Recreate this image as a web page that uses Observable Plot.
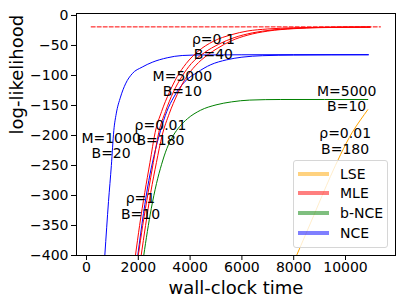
<!DOCTYPE html>
<html><head><meta charset="utf-8">
<script src="https://cdn.jsdelivr.net/npm/d3@7"></script>
<script src="https://cdn.jsdelivr.net/npm/@observablehq/plot@0.6"></script>
<style>
body{margin:0;background:#fff;}
#wrap{position:relative;width:407px;height:305px;font-family:"DejaVu Sans",sans-serif;}
#legend{position:absolute;left:293px;top:160px;width:95px;height:88px;border:1px solid #d6d6d6;border-radius:3px;background:rgba(255,255,255,0.8);box-sizing:border-box;}
.sw{position:absolute;left:4px;width:31px;height:4px;transform:translateY(-50%);}
.lab{position:absolute;left:46px;font-size:14px;line-height:14px;transform:translateY(-50%);color:#000;}
</style>
</head><body>
<div id="wrap"><div id="chart"></div><div id="legend"></div></div>
<script>
// ---- data ----
const xTicks = [0, 2000, 4000, 6000, 8000, 10000];
const yTicks = [0, -50, -100, -150, -200, -250, -300, -350, -400];

// NCE, M=1000, B=20
const nce1T  = [707, 850, 960, 1054, 1147, 1313, 1506, 1764, 2150, 2537, 3116, 3695, 4467, 6000, 8000, 10880];
const nce1LL = [-400, -310, -250, -192, -164, -136, -114, -97, -86, -78, -70.5, -66.7, -65.8, -65.5, -65.3, -65.3];
// NCE, M=5000, B=10
const nce2T  = [1980, 2200, 2406, 2600, 2857, 3100, 3370, 3800, 4270, 4800, 5400, 6000, 6800, 8000, 10880];
const nce2LL = [-400, -330, -275, -235, -192, -160, -136, -110, -95, -82, -74, -69.5, -67, -66, -65.5];
// MLE, rho=1 B=10
const mle1T  = [1890, 2050, 2250, 2450, 2650, 2900, 3200, 3500, 3850, 4300, 4900, 5600, 6200, 7000, 8000, 9000, 10950];
const mle1LL = [-400, -350, -295, -245, -195, -160, -128, -102, -80, -60, -43, -32, -26, -22.5, -20.5, -19.7, -19.3];
// MLE, rho=0.1 B=40
const mle2T  = [2000, 2170, 2380, 2580, 2790, 3050, 3350, 3680, 4050, 4550, 5100, 5700, 6400, 7200, 8200, 9200, 10950];
const mle2LL = [-400, -350, -295, -245, -195, -160, -128, -102, -80, -62, -48, -37, -29, -24, -21, -19.8, -19.3];
// MLE, rho=0.01 B=180
const mle3T  = [2110, 2280, 2480, 2700, 2920, 3200, 3500, 3822, 4200, 4700, 5046, 5600, 6200, 7000, 8000, 9000, 10950];
const mle3LL = [-400, -350, -295, -245, -200, -163, -132, -105, -84, -65, -55, -42, -33, -26, -22, -20.3, -19.3];
// b-NCE, M=5000, B=10
const bnceT  = [2210, 2350, 2500, 2703, 2900, 3100, 3350, 3600, 3900, 4400, 5000, 5600, 6300, 7500, 10860];
const bnceLL = [-400, -360, -322, -280, -248, -222, -200, -185, -172, -158, -149, -144, -141, -140, -140];
// LSE, rho=0.01, B=180
const lseT   = [8110, 8450, 8777, 9100, 9421, 9807, 10257, 10579, 10861];
const lseLL  = [-400, -366, -333, -300, -268, -232, -195, -174, -157];
// true log-likelihood (dashed)
const trueT  = [181, 11350];
const trueLL = [-19, -19];

// annotations
const noteText = ["ρ=0.1\nB=40", "M=5000\nB=10", "ρ=0.01\nB=180", "M=1000\nB=20", "ρ=1\nB=10", "M=5000\nB=10", "ρ=0.01\nB=180"];
const noteT    = [4900, 3700, 2857, 950, 2085, 10045, 9986];
const noteLL   = [-51.7, -113.7, -194.7, -216.7, -317.5, -138.3, -209];

const legendNames  = ["LSE", "MLE", "b-NCE", "NCE"];
const legendColors = ["#FFA500", "#FF0000", "#008000", "#0000FF"];

// ---- build ----
const rows = (t, ll) => t.map((d, i) => ({t: d, ll: ll[i]}));
const notes = noteText.map((s, i) => ({text: s, t: noteT[i], ll: noteLL[i]}));
const fmt = d => d < 0 ? "\u2212" + (-d) : String(d);
const lineOpts = (stroke) => ({x: "t", y: "ll", stroke, strokeWidth: 1, curve: "monotone-x", clip: true});

const chart = Plot.plot({
  width: 407, height: 305,
  marginLeft: 76, marginRight: 12, marginTop: 13, marginBottom: 50,
  style: {fontFamily: "DejaVu Sans, sans-serif", fontSize: "14px", background: "#fff", color: "#000"},
  x: {domain: [-386, 11930]},
  y: {domain: [-400, 3.3]},
  marks: [
    Plot.line(rows(trueT, trueLL), {x: "t", y: "ll", stroke: "#FF0000", strokeWidth: 1, strokeDasharray: "4,2"}),
    Plot.line(rows(lseT, lseLL), lineOpts("#FFA500")),
    Plot.line(rows(bnceT, bnceLL), lineOpts("#008000")),
    Plot.line(rows(nce1T, nce1LL), lineOpts("#0000FF")),
    Plot.line(rows(nce2T, nce2LL), lineOpts("#0000FF")),
    Plot.line(rows(mle1T, mle1LL), lineOpts("#FF0000")),
    Plot.line(rows(mle2T, mle2LL), lineOpts("#FF0000")),
    Plot.line(rows(mle3T, mle3LL), lineOpts("#FF0000")),
    Plot.text(notes, {x: "t", y: "ll", text: "text", fontSize: 14, lineHeight: 1.1, textAnchor: "middle", lineAnchor: "middle", fill: "#000"}),
    Plot.frame({stroke: "#000", strokeWidth: 1}),
    Plot.axisX({ticks: xTicks, tickFormat: fmt, tickSize: 5, tickPadding: 2, label: null, fontSize: 14}),
    Plot.axisY({ticks: yTicks, tickFormat: fmt, tickSize: 5, tickPadding: 3, label: null, fontSize: 14}),
    Plot.text(["wall-clock time"], {frameAnchor: "bottom", dy: 32.5, fontSize: 18, lineAnchor: "middle", fill: "#000"}),
    Plot.text(["log-likelihood"], {frameAnchor: "left", dx: -59, rotate: -90, fontSize: 18, lineAnchor: "middle", fill: "#000"})
  ]
});
document.getElementById("chart").appendChild(chart);

const legendCenters = [12.7, 32.3, 52.3, 72];
const lg = document.getElementById("legend");
legendNames.forEach((name, i) => {
  const sw = document.createElement("div");
  sw.className = "sw";
  sw.style.top = legendCenters[i] + "px";
  sw.style.background = legendColors[i];
  sw.style.opacity = 0.5;
  lg.appendChild(sw);
  const lab = document.createElement("div");
  lab.className = "lab";
  lab.style.top = legendCenters[i] + "px";
  lab.textContent = name;
  lg.appendChild(lab);
});
</script>
</body></html>
